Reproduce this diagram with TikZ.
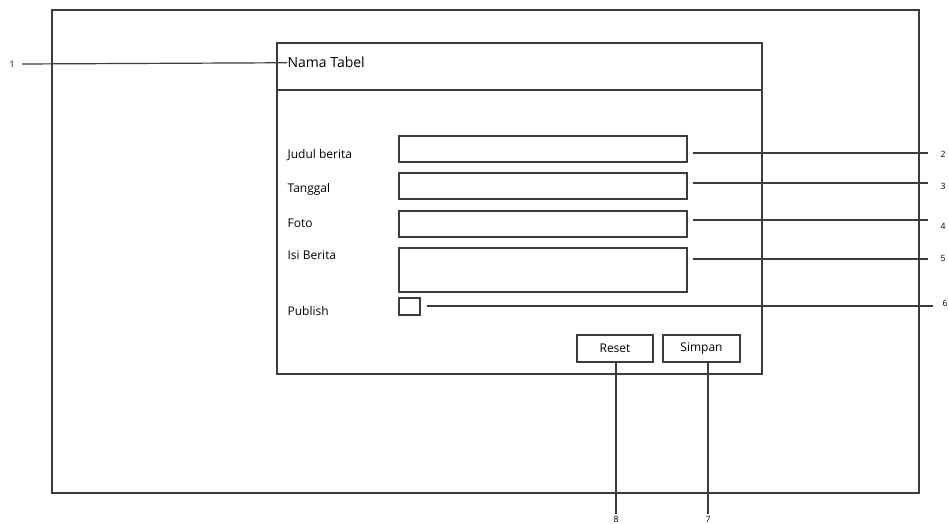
\documentclass[tikz,border=0pt]{standalone}
\usepackage{fontspec}
\setmainfont{Open Sans}
\usetikzlibrary{positioning}
\definecolor{lineGray}{RGB}{60,60,60}

\begin{document}
\begin{tikzpicture}[
        x=0.75pt, y=-0.75pt,
        line width=0.9pt,
        inputbox/.style={
            rectangle,
            draw=lineGray,
            minimum width=216pt,
            minimum height=19.5pt,
            inner sep=0pt
        },
        button/.style={
            rectangle,
            draw=lineGray,
            minimum height=20.25pt,
            inner sep=0pt,
            font=\fontsize{9}{11}\selectfont
        },
        fieldlabel/.style={
            anchor=base west,
            inner sep=0pt,
            font=\fontsize{9}{11}\selectfont
        },
        number/.style={
            inner sep=0pt,
            font=\fontsize{6.5}{7}\selectfont
        },
        leader/.style={
            draw=lineGray
        }
    ]

    \useasboundingbox (0,0) rectangle (949,524);

    % frames
    \draw[lineGray] (52,10) rectangle (919,493);
    \node[draw=lineGray, minimum width=363.75pt, minimum height=248.25pt, inner sep=0pt] (form) at (519.5,208.5) {};
    \draw[lineGray] (form.west |- 0,90) -- (form.east |- 0,90);
    \node[anchor=base west, inner sep=0pt, font=\fontsize{10.5}{12}\selectfont] (title) at (287,68) {Nama Tabel};

    % fields
    \node[fieldlabel] (ljudul) at (287,159) {Judul berita};
    \node[fieldlabel] (ltanggal) at (287,192) {Tanggal};
    \node[fieldlabel] (lfoto) at (287,227) {Foto};
    \node[fieldlabel] (lisi) at (287,259) {Isi Berita};
    \node[fieldlabel] (lpublish) at (287,315) {Publish};

    \node[inputbox] (judul) at (543,149) {};
    \node[inputbox] (tanggal) at (543,186) {};
    \node[inputbox] (foto) at (543,224) {};
    \node[inputbox, minimum height=33pt] (isi) at (543,270) {};
    \node[inputbox, minimum width=15.75pt, minimum height=12.75pt] (publish) at (409.5,306.5) {};

    \node[button, minimum width=57pt] (reset) at (615,348.5) {Reset};
    \node[button, minimum width=57.75pt] (simpan) at (701.5,348.5) {Simpan};

    % callout numbers
    \coordinate (e1) at (22,64);
    \coordinate (e2) at (928,153);
    \coordinate (e3) at (928,183);
    \coordinate (e4) at (928,220);
    \coordinate (e5) at (928,259);
    \coordinate (e6) at (933,306);
    \coordinate (e7) at (708,514);
    \coordinate (e8) at (616,514);

    \node[number] (n1) at (12,64) {1};
    \node[number] (n2) at (943,154) {2};
    \node[number] (n3) at (943,186) {3};
    \node[number] (n4) at (943,226) {4};
    \node[number] (n5) at (943,258) {5};
    \node[number] (n6) at (945,303) {6};
    \node[number, anchor=south] (n7) at (708,523) {7};
    \node[number, anchor=south] (n8) at (616,523) {8};

    \draw[leader] (e1) -- (title.west);
    \draw[leader] ([xshift=3.75pt]judul.east |- e2) -- (e2);
    \draw[leader] ([xshift=3.75pt]tanggal.east |- e3) -- (e3);
    \draw[leader] ([xshift=3.75pt]foto.east |- e4) -- (e4);
    \draw[leader] ([xshift=3.75pt]isi.east |- e5) -- (e5);
    \draw[leader] ([xshift=4.5pt]publish.east |- e6) -- (e6);
    \draw[leader] (simpan.south -| e7) -- (e7);
    \draw[leader] (reset.south -| e8) -- (e8);

    \end{tikzpicture}
\end{document}
